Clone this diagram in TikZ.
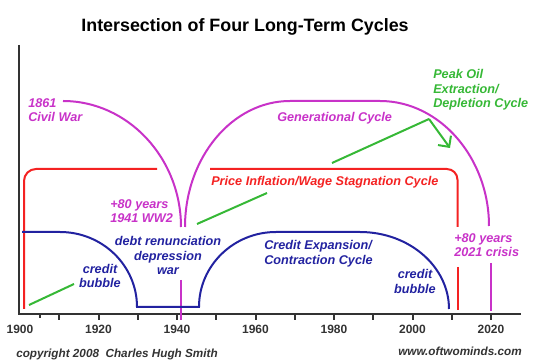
\documentclass[tikz,border=0pt]{standalone}
\usepackage{fontspec}
\setmainfont{Liberation Sans}
\usetikzlibrary{arrows.meta}
\definecolor{mag}{HTML}{C832C8}
\definecolor{redc}{HTML}{F42222}
\definecolor{bluec}{HTML}{2222A0}
\definecolor{greenc}{HTML}{36B836}
\definecolor{axisc}{HTML}{333333}
\begin{document}
\begin{tikzpicture}[x=0.75pt,y=-0.75pt,
  curve/.style={line width=1.5pt},
  axisline/.style={line width=1.5pt, draw=axisc},
  lbl/.style={inner sep=0pt, anchor=base west, align=left,
    font=\fontsize{9.5}{10.9}\selectfont\bfseries\itshape},
  clbl/.style={lbl, anchor=base, align=center},
  yearlbl/.style={inner sep=0pt, anchor=base, text=axisc,
    font=\fontsize{9}{10}\selectfont\bfseries},
  footer/.style={inner sep=0pt, anchor=base west, text=axisc,
    font=\fontsize{8.8}{10}\selectfont\bfseries\itshape}]
\useasboundingbox (0,0) rectangle (540,363);

% title
\node[inner sep=0pt, anchor=base, font=\fontsize{13.4}{15}\selectfont\bfseries] (title) at (245,31.5) {Intersection of Four Long-Term Cycles};

% axes
\draw[axisline] (19,45) -- (19,314) -- (521,314);
\foreach \i in {1,...,12} \draw[axisline] ({20+39.25*\i},314) -- ++(0,6);
\draw[axisline] (40,314) -- ++(0,4);
\foreach \yr/\i in {1900/0,1920/2,1940/4,1960/6,1980/8,2000/10,2020/12}
  \node[yearlbl] (y\yr) at ({20+39.25*\i},334) {\yr};

% generational cycle (magenta)
\draw[curve, mag] (63,101) .. controls (128,101) and (181,158) .. (181,227);
\draw[curve, mag] (185,227) .. controls (185,158) and (232,101) .. (290,101)
  -- (380,101) .. controls (440,101) and (489,158) .. (489,226);
\draw[curve, mag] (181,280) -- (181,320);
\draw[curve, mag] (491,263) -- (491,311);

% price inflation cycle (red)
\draw[curve, redc, rounded corners=9pt] (157,169) -- (24,169) -- (24,309);
\draw[curve, redc, rounded corners=8pt] (210,169) -- (457.5,169) -- (457.5,227);
\draw[curve, redc] (458,267) -- (458,310);

% credit cycle (blue)
\draw[curve, bluec] (22,232) -- (60,232) .. controls (102.5,232) and (137,265.6) .. (137,307)
  -- (199,307) .. controls (199,265.6) and (233.5,232) .. (276,232)
  -- (360,232) .. controls (409,232) and (449,266.5) .. (449,309);

% peak oil (green)
\draw[curve, greenc] (29,305) -- (74,284);
\draw[curve, greenc] (197,224) -- (267,193);
\draw[curve, greenc] (332,163) -- (429,119);
\draw[curve, greenc, -{Straight Barb[length=6pt,width=12pt]}] (429,119) -- (450,148);

% labels (base anchor = baseline of last line)
\node[lbl, text=mag] (civil) at (28,122) {1861\\Civil War};
\node[lbl, text=mag] (gen) at (277,121.7) {Generational Cycle};
\node[lbl, text=mag] (ww2) at (110,223) {+80 years\\1941 WW2};
\node[lbl, text=mag] (crisis) at (454,257) {+80 years\\2021 crisis};
\node[lbl, text=greenc] (oil) at (433,108) {Peak Oil\\Extraction/\\Depletion Cycle};
\node[lbl, text=redc] (price) at (211,185.5) {Price Inflation/Wage Stagnation Cycle};
\node[clbl, text=bluec] (debt) at (168,275) {debt renunciation\\depression\\war};
\node[clbl, text=bluec] (bub1) at (100,287.7) {credit\\bubble};
\node[lbl, text=bluec] (credit) at (264,264.3) {Credit Expansion/\\Contraction Cycle};
\node[clbl, text=bluec] (bub2) at (415,293.3) {credit\\bubble};

% footer
\node[footer] (copy) at (16,357.5) {copyright 2008\ \ Charles Hugh Smith};
\node[footer] (www) at (398,356) {www.oftwominds.com};
\end{tikzpicture}
\end{document}
